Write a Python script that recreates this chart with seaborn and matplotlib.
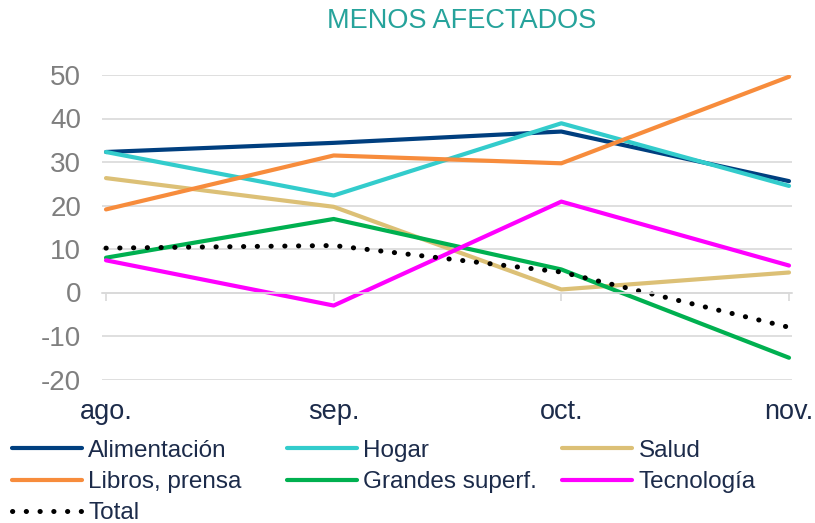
import matplotlib
matplotlib.use("Agg")
import matplotlib.pyplot as plt
from matplotlib.lines import Line2D
import seaborn as sns
import pandas as pd

months = ["ago.", "sep.", "oct.", "nov."]
alimentacion = [32.3, 34.4, 37.0, 25.6]
hogar = [32.3, 22.3, 38.9, 24.5]
salud = [26.3, 19.7, 0.7, 4.6]
libros = [19.1, 31.5, 29.7, 49.6]
grandes = [8.0, 16.9, 5.3, -15.0]
tecnologia = [7.4, -3.0, 20.9, 6.2]
total = [10.2, 10.8, 4.7, -8.0]

series_names = ["Alimentación", "Hogar", "Salud", "Libros, prensa", "Grandes superf.", "Tecnología"]
series_vals = [alimentacion, hogar, salud, libros, grandes, tecnologia]
colors = ["#003F7F", "#33CCCC", "#DCC076", "#F78C3C", "#00B050", "#FF00FF"]
yticks = [-20, -10, 0, 10, 20, 30, 40, 50]

sns.set_theme(style="white")
plt.rcParams["font.family"] = ["Liberation Sans", "DejaVu Sans"]

rows = []
for name, vals in zip(series_names, series_vals):
    for i, v in enumerate(vals):
        rows.append({"x": i, "value": v, "serie": name})
df = pd.DataFrame(rows)
df_total = pd.DataFrame({"x": range(len(months)), "value": total})

fig = plt.figure(figsize=(8.15, 5.23), dpi=100)
ax = fig.add_axes([102 / 815, 1 - 379.5 / 523, 690 / 815, (379.5 - 75) / 523])

sns.lineplot(data=df, x="x", y="value", hue="serie", hue_order=series_names,
             palette=dict(zip(series_names, colors)), linewidth=3.0, ax=ax,
             legend=False, sort=False)
sns.lineplot(data=df_total, x="x", y="value", color="black", linewidth=3.6,
             linestyle=(0, (0.05, 2.7)), dash_capstyle="round", ax=ax,
             legend=False, sort=False)
for ln in ax.lines[-1:]:
    ln.set_dash_capstyle("round")

ax.set_ylim(-20, 50)
ax.set_xlim(-4 / 227.7, 3 + 3 / 227.7)
ax.set_yticks(yticks)
ax.set_yticklabels([str(t) for t in yticks])
ax.grid(axis="y", color="#D9D9D9", linewidth=1.2)
ax.grid(axis="x", visible=False)
ax.set_xlabel("")
ax.set_ylabel("")
for s in ["top", "right", "left"]:
    ax.spines[s].set_visible(False)
ax.spines["bottom"].set_position(("data", 0))
ax.spines["bottom"].set_color("#D9D9D9")
ax.spines["bottom"].set_linewidth(1.2)
ax.set_xticks(range(len(months)))
ax.tick_params(axis="x", direction="out", length=6, width=1.2, color="#D9D9D9",
               labelbottom=False, bottom=True)
ax.tick_params(axis="y", length=0, pad=15, labelsize=20, labelcolor="#7F7F7F")

sec = ax.secondary_xaxis("bottom")
sec.set_xticks(range(len(months)))
sec.set_xticklabels(months)
sec.tick_params(length=0, pad=14, labelsize=19.5, labelcolor="#1C2B4A")
sec.spines["bottom"].set_visible(False)

fig.text(462 / 815, 1 - 21 / 523, "MENOS AFECTADOS", ha="center", va="center",
         fontsize=19.5, color="#26A39B")

handles = [Line2D([], [], color=c, linewidth=3.0) for c in colors]
total_h = Line2D([], [], color="black", linewidth=3.6, linestyle=(0, (0.05, 2.7)),
                 dash_capstyle="round")
cols = [
    ([handles[0], handles[3], total_h], [series_names[0], series_names[3], "Total"], 7 / 815),
    ([handles[1], handles[4]], [series_names[1], series_names[4]], 282 / 815),
    ([handles[2], handles[5]], [series_names[2], series_names[5]], 557 / 815),
]
for hs, ls, xpos in cols:
    fig.legend(hs, ls, loc="upper left", bbox_to_anchor=(xpos, 1 - 435 / 523),
               frameon=False, fontsize=17.5, labelcolor="#1C2B4A", handlelength=2.9,
               handletextpad=0.25, labelspacing=0.38, borderaxespad=0, borderpad=0.2)

fig.savefig("out.png", dpi=100)
